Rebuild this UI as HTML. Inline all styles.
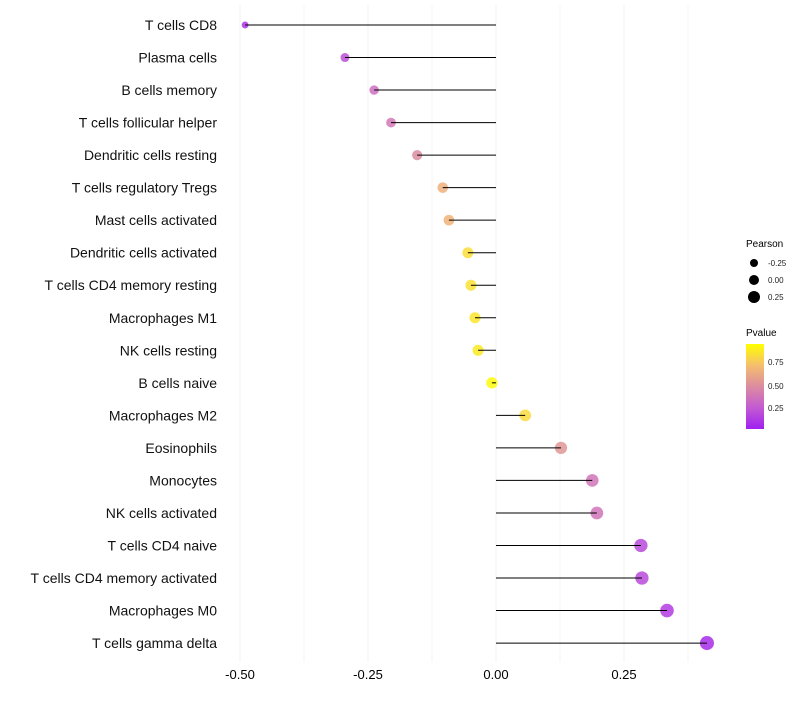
<!DOCTYPE html>
<html><head><meta charset="utf-8"><style>
body{margin:0;background:#fff;font-family:"Liberation Sans",sans-serif}
</style></head><body>
<svg id="chart" width="800" height="700" xmlns="http://www.w3.org/2000/svg">
<defs><linearGradient id="pg" x1="0" y1="1" x2="0" y2="0">
<stop offset="0" stop-color="rgb(160,32,240)"/><stop offset="0.25" stop-color="rgb(195,90,210)"/><stop offset="0.5" stop-color="rgb(220,140,160)"/><stop offset="0.75" stop-color="rgb(245,190,110)"/><stop offset="1" stop-color="rgb(255,255,0)"/></linearGradient></defs>
<g id="grid"></g>
<g id="points"></g>
<g id="marks"></g>
<g id="ylabels"></g>
<g id="xlabels"></g>
<g>
<text x="746" y="247" font-size="10" fill="#000">Pearson</text>
<circle cx="754" cy="263" r="4" fill="#000"/><text x="768" y="266" font-size="8" fill="#222">-0.25</text>
<circle cx="754" cy="280" r="5" fill="#000"/><text x="768" y="283" font-size="8" fill="#222">0.00</text>
<circle cx="754" cy="297" r="6" fill="#000"/><text x="768" y="300" font-size="8" fill="#222">0.25</text>
</g>
<g>
<text x="746" y="336" font-size="10" fill="#000">Pvalue</text>
<rect x="746" y="344" width="18" height="85" fill="url(#pg)"/>
<text x="768" y="365" font-size="8" fill="#222">0.75</text>
<text x="768" y="389" font-size="8" fill="#222">0.50</text>
<text x="768" y="411" font-size="8" fill="#222">0.25</text>
</g>
</svg>
<script>
const categories=["T cells CD8","Plasma cells","B cells memory","T cells follicular helper","Dendritic cells resting","T cells regulatory  Tregs ","Mast cells activated","Dendritic cells activated","T cells CD4 memory resting","Macrophages M1","NK cells resting","B cells naive","Macrophages M2","Eosinophils","Monocytes","NK cells activated","T cells CD4 naive","T cells CD4 memory activated","Macrophages M0","T cells gamma delta"];
const pearson=[-0.49,-0.295,-0.238,-0.205,-0.154,-0.104,-0.092,-0.055,-0.049,-0.041,-0.035,-0.008,0.057,0.127,0.188,0.197,0.283,0.285,0.334,0.412];
const pvalue=[0.08,0.2,0.35,0.4,0.5,0.68,0.7,0.87,0.88,0.9,0.92,0.98,0.86,0.55,0.38,0.38,0.18,0.18,0.12,0.05];
const xTicks=[-0.5,-0.25,0,0.25];
const xTickLabels=["-0.50","-0.25","0.00","0.25"];
const NS="http://www.w3.org/2000/svg";
const x=v=>496+v*512;
const y=i=>25+i*32.53;
const stops=[[0,[160,32,240]],[0.25,[195,90,210]],[0.5,[220,140,160]],[0.75,[245,190,110]],[1,[255,255,0]]];
function col(p){for(let k=0;k<stops.length-1;k++){const [p0,a]=stops[k],[p1,b]=stops[k+1];if(p<=p1){const t=(p-p0)/(p1-p0);return `rgb(${a.map((v,j)=>Math.round(v+(b[j]-v)*t)).join(',')})`;}}return 'rgb(255,255,0)';}
function mk(tag,attrs,parent){const e=document.createElementNS(NS,tag);for(const k in attrs)e.setAttribute(k,attrs[k]);document.getElementById(parent).appendChild(e);return e;}
for(let v=-0.5;v<=0.4;v+=0.125){const l=mk('line',{x1:x(v),x2:x(v),y1:5,y2:662,stroke:'#f0f0f0','stroke-width':Math.abs((v*4)%1)<1e-6?1:0.6},'grid');

}
xTicks.forEach((v,i)=>{const t=mk('text',{x:x(v),y:679,'font-size':13,'text-anchor':'middle',fill:'#000'},'xlabels');t.textContent=xTickLabels[i];

});
categories.forEach((c,i)=>{
const t=mk('text',{x:217,y:y(i)+5,'font-size':14,'text-anchor':'end',fill:'#111','xml:space':'preserve'},'ylabels');t.textContent=c;


const r=Math.sqrt(Math.max(4,32.3+41.7*pearson[i]));
const d=mk('circle',{cx:x(pearson[i]),cy:y(i),r:r,fill:col(pvalue[i]),'fill-opacity':0.85},'points');


const l=mk('line',{x1:x(0),x2:x(pearson[i]),y1:y(i),y2:y(i),stroke:'#000','stroke-width':1},'marks');


});
</script>
</body></html>
